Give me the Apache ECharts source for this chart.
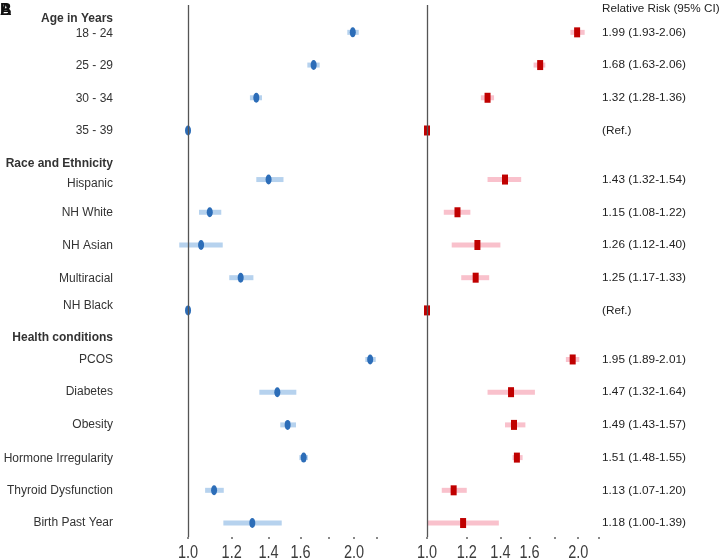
<!DOCTYPE html>
<html>
<head>
<meta charset="utf-8">
<script src="https://cdn.jsdelivr.net/npm/echarts@6/dist/echarts.min.js"></script>
<style>html,body{margin:0;padding:0;background:#fff}#c{width:723px;height:559px}</style>
</head>
<body>
<div id="c"></div>
<script>
// ---- data ----
const categories = ['18 - 24','25 - 29','30 - 34','35 - 39','Hispanic','NH White','NH Asian','Multiracial','NH Black','PCOS','Diabetes','Obesity','Hormone Irregularity','Thyroid Dysfunction','Birth Past Year'];
const rowPos = [0,1,2,3,4.5,5.5,6.5,7.5,8.5,10,11,12,13,14,15];
const labelPos = [0.03,1.03,2.04,3.02,4.62,5.52,6.51,7.52,8.35,10.02,11,12,13.03,14,15];
const groups = ['Age in Years','Race and Ethnicity','Health conditions'];
const groupPos = [-0.43,4.01,9.34];

const leftRR   = [1.99,1.69,1.33,1.00,1.40,1.095,1.056,1.246,1.00,2.14,1.452,1.516,1.621,1.115,1.308];
const leftLow  = [1.945,1.646,1.295,1.00,1.33,1.047,0.964,1.188,1.00,2.097,1.347,1.47,1.592,1.074,1.159];
const leftHigh = [2.04,1.733,1.362,1.00,1.49,1.149,1.156,1.314,1.00,2.19,1.572,1.57,1.65,1.161,1.479];

const rightRR   = [1.99,1.68,1.32,1.00,1.43,1.15,1.26,1.25,1.00,1.95,1.47,1.49,1.51,1.13,1.18];
const rightLow  = [1.93,1.63,1.28,1.00,1.32,1.08,1.12,1.17,1.00,1.89,1.32,1.43,1.48,1.07,1.00];
const rightHigh = [2.06,1.72,1.36,1.00,1.54,1.22,1.40,1.33,1.00,2.01,1.64,1.57,1.55,1.20,1.39];

const rrText = ['1.99 (1.93-2.06)','1.68 (1.63-2.06)','1.32 (1.28-1.36)','(Ref.)','1.43 (1.32-1.54)','1.15 (1.08-1.22)','1.26 (1.12-1.40)','1.25 (1.17-1.33)','(Ref.)','1.95 (1.89-2.01)','1.47 (1.32-1.64)','1.49 (1.43-1.57)','1.51 (1.48-1.55)','1.13 (1.07-1.20)','1.18 (1.00-1.39)'];
const rrHeader = 'Relative Risk (95% CI)';
const rrHeaderPos = -0.72;

const tickValues = [1.0,1.2,1.4,1.6,1.8,2.0,2.2];
const tickLabels = [1.0,1.2,1.4,1.6,2.0];
const xMinV = 0.9, xMaxV = 2.2;

// ---- chart ----
const L = Math.log;
const FONT = "'Liberation Sans', Arial, sans-serif";
const chart = echarts.init(document.getElementById('c'), null, {renderer:'canvas'});

const yMin = -0.836, yMax = 15.427;
const gTop = 5, gH = 532;

function yAx(i){ return {gridIndex:i, type:'value', inverse:true, min:yMin, max:yMax, show:false}; }
function plotX(i){
  return {gridIndex:i, type:'value', min:L(xMinV), max:L(xMaxV),
    axisLine:{show:false, onZero:false}, splitLine:{show:false},
    axisTick:{show:true, customValues:tickValues.map(L), length:2, lineStyle:{color:'#888', width:2}},
    axisLabel:{show:false}};
}
function boxX(i){ return {gridIndex:i, type:'value', min:0, max:1, show:false}; }

function ciSeries(idx, low, high, color){
  return {type:'custom', xAxisIndex:idx, yAxisIndex:idx, clip:false, z:2,
    data: low.map((v,i)=>[L(v), L(high[i]), rowPos[i]]),
    encode:{x:[0,1], y:2},
    renderItem:(params, api)=>{
      const p0 = api.coord([api.value(0), api.value(2)]);
      const p1 = api.coord([api.value(1), api.value(2)]);
      return {type:'rect', shape:{x:p0[0], y:p0[1]-2.5, width:p1[0]-p0[0], height:5}, style:{fill:color}};
    }};
}
function ptSeries(idx, vals, symbol, color){
  return {type:'scatter', xAxisIndex:idx, yAxisIndex:idx, z:4, symbol:symbol, symbolSize:[6,10],
    itemStyle:{color:color, opacity:1}, silent:true,
    data: vals.map((v,i)=>[L(v), rowPos[i]]),
    markLine:{silent:true, symbol:['none','none'], label:{show:false},
      lineStyle:{color:'#555', width:1.3, type:'solid'}, data:[{xAxis:0}]}};
}
function tickLabelSeries(idx){
  return {type:'custom', xAxisIndex:idx, yAxisIndex:idx, clip:false, silent:true,
    data: tickLabels.map(v=>[L(v), yMax]), encode:{x:0, y:1},
    renderItem:(params, api)=>{
      const p = api.coord([api.value(0), api.value(1)]);
      return {type:'text', x:p[0], y:p[1]+15.5, scaleY:1.3,
        style:{text:tickLabels[params.dataIndex].toFixed(1), fill:'#3c3c3c', font:"14.5px "+FONT, align:'center', verticalAlign:'middle'}};
    }};
}
function textSeries(idx, xv, texts, pos, align, font, color){
  return {type:'custom', xAxisIndex:idx, yAxisIndex:idx, clip:false, silent:true,
    data: pos.map(p=>[xv, p]), encode:{x:0, y:1},
    renderItem:(params, api)=>{
      const p = api.coord([api.value(0), api.value(1)]);
      return {type:'text', x:p[0], y:p[1], style:{text:texts[params.dataIndex], fill:color, font:font, align:align, verticalAlign:'middle'}};
    }};
}

const option = {
  animation:false,
  backgroundColor:'#fff',
  grid:[
    {left:0, top:gTop, width:113, height:gH},
    {left:162.8, top:gTop, width:214, height:gH},
    {left:404, top:gTop, width:195, height:gH},
    {left:602, top:gTop, width:115, height:gH}
  ],
  xAxis:[boxX(0), plotX(1), plotX(2), boxX(3)],
  yAxis:[yAx(0), yAx(1), yAx(2), yAx(3)],
  graphic:[
    {type:'text', left:0, top:3, style:{text:'B', font:"bold 16px "+FONT, fill:'#111'}},
    {type:'text', left:0, top:3, style:{text:'A', font:"bold 16px "+FONT, fill:'#111'}}
  ],
  series:[
    textSeries(0, 1, categories, labelPos, 'right', "12px "+FONT, '#333'),
    textSeries(0, 1, groups, groupPos, 'right', "bold 12px "+FONT, '#333'),
    ciSeries(1, leftLow, leftHigh, '#b6d2ee'),
    ptSeries(1, leftRR, 'circle', '#2c6db8'),
    tickLabelSeries(1),
    ciSeries(2, rightLow, rightHigh, '#f9c1cc'),
    ptSeries(2, rightRR, 'rect', '#c00000'),
    tickLabelSeries(2),
    textSeries(3, 0, rrText, rowPos, 'left', "11.8px "+FONT, '#222'),
    textSeries(3, 0, [rrHeader], [rrHeaderPos], 'left', "11.7px "+FONT, '#222')
  ]
};
chart.setOption(option);
</script>
</body>
</html>
